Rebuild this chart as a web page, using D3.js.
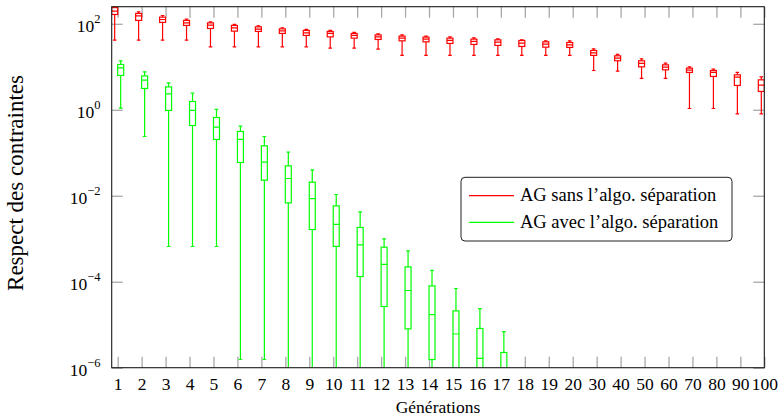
<!DOCTYPE html>
<html>
<head>
<meta charset="utf-8">
<script src="https://cdn.jsdelivr.net/npm/d3@7"></script>
<style>
  html, body { margin: 0; padding: 0; background: #fff; }
  svg { display: block; }
  text { font-family: "Liberation Serif", "Times New Roman", serif; fill: #000; }
</style>
</head>
<body>
<svg id="chart" width="780" height="415"></svg>
<script>
// ---- Data ----
const categories = ["1","2","3","4","5","6","7","8","9","10","11","12","13","14","15","16","17","18","19","20","30","40","50","60","70","80","90","100"];

// Series 1: AG sans l'algo. séparation (red)
const redMin = [41.7,41.7,41.7,41.7,29.1,29.1,29.1,29.1,29.1,27.1,27.1,25.8,18.4,18.4,18.4,18.4,18.4,18.4,18.4,18.4,8.2,7.9,5.36,5.36,1.07,1.07,0.80,0.80];
const redQ1  = [165,120,108,91.6,78,67.5,66.4,59.7,53.6,49.7,46.4,43.2,40.2,38.1,34.9,33.1,31.4,29.7,28.6,28.2,18.4,13.8,9.98,8.5,7.38,5.96,3.68,2.67];
const redMed = [197,153,126,105,93,80.5,75.2,68.6,61.7,59.7,53.6,49.7,46.4,44,41,38.9,37.4,35.5,33.6,32.4,21.1,15.9,12,9.8,8.35,7.38,5.75,3.74];
const redQ3  = [238,174,143,120,105,91.6,85,76.4,70.2,66.4,59.7,55.3,51.7,49,46.4,44,42.4,41,38.1,36.8,24,18,13.8,11.1,9.3,8.2,6.5,4.97];
const redMax = [303,190,156,128,111,96.6,89.7,80.5,74,70.2,63,58.4,55.3,51.7,49.8,47.1,44.7,42.4,40.2,40.2,26.2,19.4,15.3,12.2,9.98,8.8,7.38,5.83];

// Series 2: AG avec l'algo. séparation (green) — generations 1..17
const greenMin = [1.09,0.239,6.6e-4,6.6e-4,6.6e-4,1.55e-6,1.55e-6,1e-8,1e-8,1e-8,1e-8,1e-8,1e-8,1e-8,1e-8,1e-8,1e-8];
const greenQ1  = [6.29,3.13,0.965,0.431,0.204,0.0594,0.0230,6.83e-3,1.64e-3,6.64e-4,1.32e-4,2.65e-5,8.0e-6,1.55e-6,1e-7,1e-7,1e-7];
const greenMed = [9.45,4.89,2.34,0.965,0.394,0.204,0.0604,0.0252,8.55e-3,2.15e-3,7.2e-4,2.52e-4,6.25e-5,1.71e-5,6.08e-6,1.64e-6,5e-7];
const greenQ3  = [11.3,6.15,3.41,1.56,0.662,0.313,0.145,0.0496,0.0207,5.82e-3,1.83e-3,6.36e-4,2.21e-4,8.0e-5,2.10e-5,8.17e-6,2.26e-6];
const greenMax = [13.8,7.62,4.23,2.44,1.02,0.416,0.239,0.103,0.040,0.0107,4.22e-3,9.93e-4,5.22e-4,1.83e-4,6.96e-5,2.38e-5,6.88e-6];

const yTickExps = [-6, -4, -2, 0, 2];
const seriesNames = ["AG sans l\u2019algo. s\u00e9paration", "AG avec l\u2019algo. s\u00e9paration"];
const seriesColors = ["#ff0000", "#00ff00"];

// ---- Layout ----
const L = 111.7, R = 764.3, T = 6.7, B = 367.7;
const svg = d3.select("#chart");

const x = d3.scaleLinear().domain([-0.25, categories.length - 1]).range([L, R]);
const y = d3.scaleLog().domain([1e-6, 250]).range([B, T]);

const boxW = 0.25;       // in category units
const offset = 0.125;    // series shift
const capHalf = 1.8;     // px

svg.append("defs").append("clipPath").attr("id", "plotclip")
  .append("rect").attr("x", L).attr("y", T).attr("width", R - L).attr("height", B - T);

// ---- Ticks (gray, inward) ----
const tickColor = "#a8a8a8";
const idx = d3.range(categories.length);

const xb = svg.append("g").attr("transform", `translate(0,${B})`)
  .call(d3.axisBottom(x).tickValues(idx).tickSize(-11).tickPadding(9).tickFormat(i => categories[i]));
const xt = svg.append("g").attr("transform", `translate(0,${T})`)
  .call(d3.axisTop(x).tickValues(idx).tickSize(-11).tickFormat(""));
const yl = svg.append("g").attr("transform", `translate(${L},0)`)
  .call(d3.axisLeft(y).tickValues(yTickExps.map(e => Math.pow(10, e))).tickSize(-11).tickFormat(""));
const yr = svg.append("g").attr("transform", `translate(${R},0)`)
  .call(d3.axisRight(y).tickValues(yTickExps.map(e => Math.pow(10, e))).tickSize(-11).tickFormat(""));

[xb, xt, yl, yr].forEach(g => {
  g.select(".domain").remove();
  g.selectAll(".tick line").attr("stroke", tickColor).attr("stroke-width", 1.3);
});
xb.selectAll(".tick text")
  .attr("font-family", "Liberation Serif").attr("font-size", 17.5).attr("fill", "#000")
  .attr("dy", null).attr("y", 22);

// y tick labels with superscripts
const ylab = svg.append("g");
yTickExps.forEach(e => {
  const t = ylab.append("text")
    .attr("x", 100.5).attr("y", y(Math.pow(10, e)) + 8.5)
    .attr("text-anchor", "end").attr("font-size", 17.5);
  t.append("tspan").text("10");
  t.append("tspan").attr("font-size", 12.5).attr("dy", -9.5)
    .text(e < 0 ? "\u2212" + Math.abs(e) : String(e));
});

// ---- Boxes ----
const plot = svg.append("g").attr("clip-path", "url(#plotclip)");

function drawSeries(mins, q1s, meds, q3s, maxs, shift, color) {
  const data = mins.map((m, i) => ({ i, min: m, q1: q1s[i], med: meds[i], q3: q3s[i], max: maxs[i] }));
  const g = plot.append("g").attr("stroke", color).attr("fill", "none").attr("stroke-width", 1.2);
  const cx = d => x(d.i + shift);
  const hw = (x(boxW) - x(0)) / 2;
  g.selectAll(".wl").data(data).join("line").attr("class", "wl")
    .attr("x1", cx).attr("x2", cx).attr("y1", d => y(d.q1)).attr("y2", d => y(d.min));
  g.selectAll(".wh").data(data).join("line").attr("class", "wh")
    .attr("x1", cx).attr("x2", cx).attr("y1", d => y(d.q3)).attr("y2", d => y(d.max));
  g.selectAll(".cl").data(data).join("line").attr("class", "cl")
    .attr("x1", d => cx(d) - capHalf).attr("x2", d => cx(d) + capHalf)
    .attr("y1", d => y(d.min)).attr("y2", d => y(d.min));
  g.selectAll(".ch").data(data).join("line").attr("class", "ch")
    .attr("x1", d => cx(d) - capHalf).attr("x2", d => cx(d) + capHalf)
    .attr("y1", d => y(d.max)).attr("y2", d => y(d.max));
  g.selectAll(".bx").data(data).join("rect").attr("class", "bx")
    .attr("x", d => cx(d) - hw).attr("width", 2 * hw)
    .attr("y", d => y(d.q3)).attr("height", d => y(d.q1) - y(d.q3))
    .attr("fill", "#fff");
  g.selectAll(".md").data(data).join("line").attr("class", "md")
    .attr("x1", d => cx(d) - hw).attr("x2", d => cx(d) + hw)
    .attr("y1", d => y(d.med)).attr("y2", d => y(d.med));
}
drawSeries(redMin, redQ1, redMed, redQ3, redMax, -offset, seriesColors[0]);
drawSeries(greenMin, greenQ1, greenMed, greenQ3, greenMax, offset, seriesColors[1]);

// ---- Frame ----
svg.append("rect").attr("x", L).attr("y", T).attr("width", R - L).attr("height", B - T)
  .attr("fill", "none").attr("stroke", "#1a1a1a").attr("stroke-width", 1.1);

// ---- Axis titles ----
svg.append("text").attr("x", 438).attr("y", 412.5).attr("text-anchor", "middle")
  .attr("font-size", 17.5).text("G\u00e9n\u00e9rations");
svg.append("text").attr("transform", "translate(23,183) rotate(-90)")
  .attr("text-anchor", "middle").attr("font-size", 23).text("Respect des contraintes");

// ---- Legend ----
const lg = svg.append("g");
lg.append("rect").attr("x", 461).attr("y", 177.3).attr("width", 271).attr("height", 63.7)
  .attr("rx", 4).attr("fill", "#fff").attr("stroke", "#222").attr("stroke-width", 1);
seriesNames.forEach((name, k) => {
  const ly = 195.7 + k * 26.6;
  lg.append("line").attr("x1", 469).attr("x2", 514).attr("y1", ly).attr("y2", ly)
    .attr("stroke", seriesColors[k]).attr("stroke-width", 1.2);
  lg.append("text").attr("x", 520).attr("y", ly + 5.3).attr("font-size", 18.5).text(name);
});
</script>
</body>
</html>
